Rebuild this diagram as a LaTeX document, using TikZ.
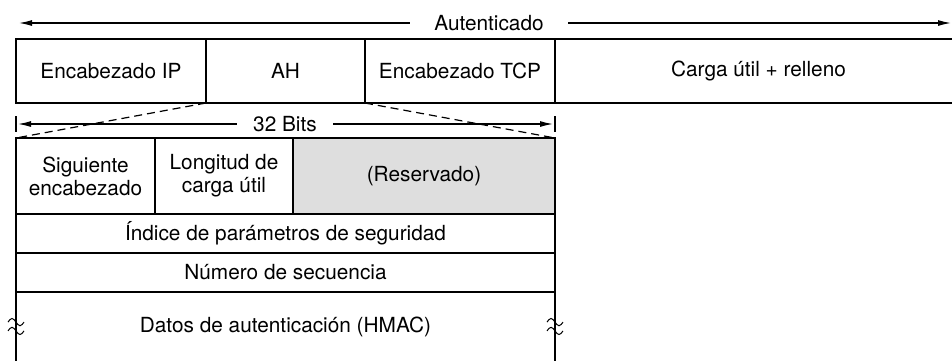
\documentclass[tikz,border=0pt]{standalone}
\usepackage{fontspec}
\setmainfont{TeX Gyre Heros}
\usetikzlibrary{arrows.meta, calc}

\begin{document}
\begin{tikzpicture}[
  x=0.5pt, y=-0.5pt,
  font=\fontsize{10.4}{11.5}\selectfont,
  line width=0.6pt,
  cell/.style={rectangle, draw, inner sep=0pt, outer sep=0pt, align=center},
  reserved/.style={cell, fill=black!13},
  lbl/.style={fill=white, inner ysep=1pt, inner xsep=12pt},
  arrow/.style={-{Latex[length=6.5pt, width=3pt]}},
  guide/.style={dash pattern=on 4pt off 2.5pt}
]
  \useasboundingbox (0,0) rectangle (952,361);
  \clip (0,0) rectangle (952,361);

  % paquete
  \node[cell, minimum width=95pt, minimum height=32pt] (ip) at (111,71) {Encabezado IP};
  \node[cell, minimum width=79.5pt, minimum height=32pt] (ah) at (285.5,71) {AH};
  \node[cell, minimum width=95pt, minimum height=32pt] (tcp) at (460,71) {Encabezado TCP};
  \node[cell, minimum width=203.5pt, minimum height=32pt] (carga) at (758.5,71) {Carga útil + relleno};

  % cabecera AH
  \node[cell, minimum width=69.5pt, minimum height=38pt] (sig) at (85.5,176) {Siguiente\\encabezado};
  \node[cell, minimum width=69pt, minimum height=38pt] (lon) at (224,176) {Longitud de\\carga útil};
  \node[reserved, minimum width=131pt, minimum height=38pt] (res) at (424,176) {(Reservado)};
  \node[cell, minimum width=269.5pt, minimum height=19.5pt] (spi) at (285.5,233.5) {Índice de parámetros de seguridad};
  \node[cell, minimum width=269.5pt, minimum height=19.5pt] (num) at (285.5,272.5) {Número de secuencia};
  \node[cell, draw=none, minimum width=269.5pt, minimum height=34.5pt] (datos) at (285.5,326.5) {Datos de autenticación (HMAC)};
  \draw (datos.north west) -- (datos.south west);
  \draw (datos.north east) -- (datos.south east);
  \foreach \side in {west, east}
    \foreach \dy in {2.2pt, -2.2pt}
      \draw[line width=0.5pt] ([xshift=-4pt, yshift=\dy]datos.\side)
        sin +(2pt,1.8pt) cos +(2pt,-1.8pt) sin +(2pt,-1.8pt) cos +(2pt,1.8pt);

  % lineas de ampliacion
  \draw[guide] (ip.south east) -- (sig.north west);
  \draw[guide] (tcp.south west) -- (res.north east);

  % flechas
  \node[lbl] (aut) at (489,23) {Autenticado};
  \coordinate (autL) at (19,23);
  \coordinate (autR) at (951,23);
  \draw[arrow] (aut) -- (autL);
  \draw[arrow] (aut) -- (autR);

  \node[lbl, inner xsep=8pt] (bits) at (285,124) {32 Bits};
  \coordinate (bitsL) at (16,124);
  \coordinate (bitsR) at (555,124);
  \draw[arrow, shorten >=1pt] (bits) -- (bitsL);
  \draw[arrow, shorten >=1pt] (bits) -- (bitsR);
  \draw ([yshift=4pt]bitsL) -- ([yshift=-4pt]bitsL);
  \draw ([yshift=4pt]bitsR) -- ([yshift=-4pt]bitsR);
\end{tikzpicture}
\end{document}
